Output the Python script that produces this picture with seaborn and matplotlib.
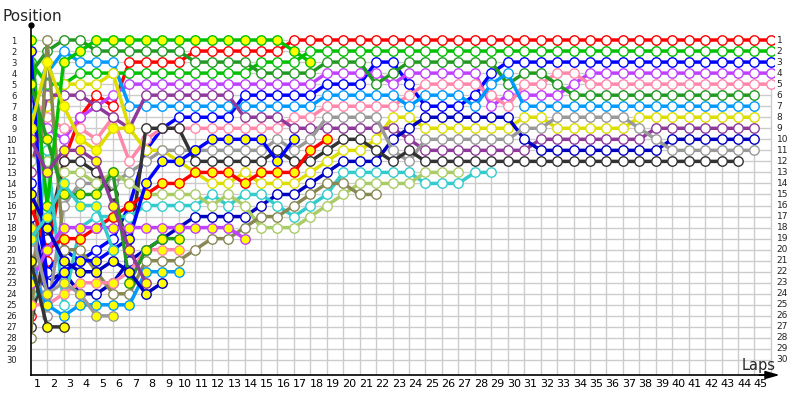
import numpy as np
import pandas as pd
import matplotlib
matplotlib.use("Agg")
import matplotlib.pyplot as plt
import seaborn as sns

# Lap 0 is the starting grid, one value per completed lap after that
laps = list(range(0, 46))
positions = list(range(1, 31))

# Drivers with open markers
red_pos = [26, 21, 12, 8, 6, 7, 3, 3, 3, 3, 2, 2, 2, 2, 2, 2] + [1] * 30
green_pos = [3, 5, 5, 4, 4, 4, 4, 4, 4, 4, 4, 4, 4, 4, 3, 3, 3] + [2] * 29
blue_pos = ([14, 22, 20, 21, 20, 19, 16, 11, 9, 8, 8, 8, 8, 6, 6, 6, 6, 6, 5, 5, 5, 3, 3, 5,
             7, 7, 7, 6, 4] + [3] * 17)
violet_pos = ([7, 9, 10, 8, 7, 6, 5, 5, 5, 5, 5, 5, 5, 5, 5, 5, 5, 5, 4, 4, 4, 4, 5, 4, 4, 4, 4, 4,
               7, 6, 6, 6, 6, 5] + [4] * 12)
pink_pos = ([6, 8, 9, 9, 10, 8, 12, 10, 9, 9, 9, 9, 9, 9, 9, 9, 8, 8, 7, 7, 7, 7, 7, 6, 5, 5, 5, 5,
             6, 7, 5, 5, 4, 4] + [5] * 12)
dkgreen_pos = ([4, 2, 1, 1, 2, 2, 2, 2, 2, 2, 3, 3, 3, 3, 4, 4, 4, 4, 3, 3, 3, 5, 4, 3, 3, 3, 3, 3,
                3, 5, 4, 4, 5] + [6] * 12)
sky_pos = ([8, 4, 2, 3, 3, 3, 7, 7, 7, 7, 7, 7, 7, 7, 7, 7, 7, 7, 6, 6, 6, 6, 6, 7, 6, 6, 6, 7,
            5, 4] + [7] * 15)
yellow_pos = ([11, 7, 5, 5, 5, 4, 9, 11, 11, 12, 13, 14, 14, 13, 14, 14, 14, 13, 12, 11, 11, 10,
               8, 8, 9, 9, 9, 9, 9, 9, 8, 8, 9, 9, 9, 9, 9] + [8] * 8)
purple_pos = ([13, 6, 6, 6, 7, 8, 9, 6, 6, 6, 6, 6, 6, 8, 8, 8, 9, 9, 9, 9, 9, 9, 9, 10]
              + [11] * 7 + [10] * 7 + [9] * 7)
navy_pos = ([17, 23, 22, 24, 24, 23, 21, 20, 19, 18, 17, 17, 17, 17, 16, 15, 15, 14, 13, 12, 12,
             12, 10, 9] + [8] * 6 + [10] + [11] * 8 + [10] * 6)
gray_pos = ([20, 26, 16, 14, 14, 14, 13, 12, 11, 11, 11, 11, 11, 11, 11, 10, 11, 10, 8, 8, 8, 8,
             11, 12] + [10] * 6 + [9, 9] + [8] * 5 + [9, 10] + [11] * 6)
dkgray_pos = ([27, 19, 12, 12, 13, 15, 20, 9, 9, 9, 12, 12, 12, 12, 12, 11, 12, 12, 11, 10, 10,
               11, 12, 11] + [12] * 20)
cyan_pos = [24, 11, 25, 18, 17, 17, 17, 16, 16, 16, 16, 15, 16, 15, 15, 16, 17, 16, 15,
            13, 13, 13, 13, 13, 14, 14, 14, 13, 13]
ltgreen_pos = [12, 12, 13, 13, 14, 13, 14, 15, 15, 15, 15, 16, 15, 16, 18, 18, 18, 17, 16, 15,
               14, 14, 14, 14, 13, 13, 13]
olive_pos = [28, 1, 20, 20, 22, 24, 24, 21, 21, 21, 20, 19, 19, 18, 17, 17, 16, 15, 14, 14, 15, 15]

# Drivers with yellow filled markers
green_y_pos = [1, 16, 3, 2, 1, 1, 1, 1, 1, 1, 1, 1, 1, 1, 1, 1, 2, 3]
blue_y_pos = [2, 24, 22, 21, 21, 20, 19, 14, 12, 12, 11, 10, 10, 10, 10, 12, 10]
red_y_pos = [16, 20, 19, 19, 18, 17, 16, 15, 14, 14, 13, 13, 13, 14, 13, 13, 13, 11, 10]
violet_y_pos = [23, 20, 18, 18, 18, 18, 18, 18, 18, 18, 18, 18, 18, 19]
sky_y_pos = [22, 25, 26, 25, 25, 25, 25, 22, 22, 22]
pink_y_pos = [25, 25, 24, 23, 23, 23, 22, 20, 20, 20]
dkgreen_y_pos = [5, 10, 15, 15, 15, 13, 23, 20, 19, 19]
yellow_y_pos = [9, 3, 7, 10, 11, 9, 9]
purple_y_pos = [10, 13, 11, 11, 12, 16, 20, 23]
navy_y_pos = [15, 18, 21, 22, 22, 21, 22, 24, 23]
gray_y_pos = [18, 24, 23, 24, 26, 26]
dkgray_y_pos = [21, 27, 27]
cyan_y_pos = [19, 17, 14, 16, 16, 20]

WHITE = "white"
YFILL = "#FFFF00"
drivers = [
    (red_pos, "#FF0000", WHITE),
    (green_pos, "#00C000", WHITE),
    (blue_pos, "#0000FF", WHITE),
    (violet_pos, "#C040FF", WHITE),
    (pink_pos, "#FF88AA", WHITE),
    (dkgreen_pos, "#229922", WHITE),
    (sky_pos, "#0099FF", WHITE),
    (yellow_pos, "#DDDD00", WHITE),
    (purple_pos, "#8E3A9A", WHITE),
    (navy_pos, "#0000C0", WHITE),
    (gray_pos, "#999999", WHITE),
    (dkgray_pos, "#333333", WHITE),
    (cyan_pos, "#33CCCC", WHITE),
    (ltgreen_pos, "#AACC66", WHITE),
    (olive_pos, "#888855", WHITE),
    (red_y_pos, "#FF0000", YFILL),
    (green_y_pos, "#00C000", YFILL),
    (blue_y_pos, "#0000FF", YFILL),
    (violet_y_pos, "#C040FF", YFILL),
    (pink_y_pos, "#FF88AA", YFILL),
    (dkgreen_y_pos, "#229922", YFILL),
    (sky_y_pos, "#0099FF", YFILL),
    (yellow_y_pos, "#DDDD00", YFILL),
    (purple_y_pos, "#8E3A9A", YFILL),
    (navy_y_pos, "#0000C0", YFILL),
    (gray_y_pos, "#999999", YFILL),
    (dkgray_y_pos, "#333333", YFILL),
    (cyan_y_pos, "#33CCCC", YFILL),
]

sns.set_theme(style="white")
plt.rcParams["font.family"] = ["DejaVu Sans"]

fig = plt.figure(figsize=(8, 4), dpi=100)
ax = fig.add_axes([30.7 / 800, 25 / 400, 743.5 / 800, 350 / 400])

# light grid, one line per lap and per position
ax.hlines(positions, 0, 45, color="#CCCCCC", lw=1, zorder=0)
ax.vlines(laps[1:], 1, 31.36, color="#CCCCCC", lw=1, zorder=0)

for pos, color, fill in drivers:
    x = laps[:len(pos)]
    sns.lineplot(x=x, y=pos, ax=ax, color=color, lw=2.5, marker="o", markersize=6.8,
                 markerfacecolor=fill, markeredgecolor=color, markeredgewidth=1.0,
                 estimator=None, sort=False, solid_joinstyle="miter", legend=False)

ax.set_xlim(0, 45.2)
ax.set_ylim(31.36, -0.36)
ax.set_xlabel("")
ax.set_ylabel("")

# lap numbers sit between the grid lines
ax.set_xticks([k - 0.62 for k in laps[1:]], labels=[str(k) for k in laps[1:]])
ax.tick_params(axis="x", length=0, pad=3, labelsize=8, colors="black")
ax.set_yticks(positions, labels=[str(p) for p in positions])
ax.tick_params(axis="y", length=0, pad=10, labelsize=6, colors="#222222")
for p in positions:
    ax.text(45.35, p, str(p), ha="left", va="center", fontsize=6.5, color="#222222", clip_on=False)

for side in ["top", "right"]:
    ax.spines[side].set_visible(False)
ax.spines["left"].set_color("black")
ax.spines["left"].set_linewidth(1.2)
ax.spines["bottom"].set_color("black")
ax.spines["bottom"].set_linewidth(1.2)
ax.plot([0], [-0.36], marker="o", ms=3.5, color="black", clip_on=False)
ax.annotate("", xy=(1.0075, 0), xytext=(0.98, 0), xycoords="axes fraction",
            arrowprops=dict(arrowstyle="-|>,head_length=0.7,head_width=0.2", color="black",
                            lw=1.2, shrinkA=0, shrinkB=0), annotation_clip=False)

fig.text(3 / 800, 379 / 400, "Position", fontsize=11, ha="left", va="baseline")
fig.text(742 / 800, 30 / 400, "Laps", fontsize=10.5, ha="left", va="baseline")

fig.savefig("out.png", dpi=100)
